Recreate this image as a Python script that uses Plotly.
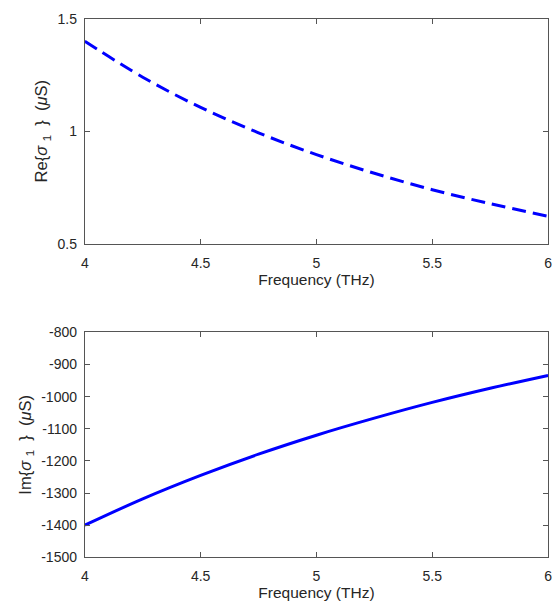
import plotly.graph_objects as go

freq = [4.0, 4.25, 4.5, 4.75, 5.0, 5.25, 5.5, 5.75, 6.0]
re_sigma = [1.400, 1.240, 1.106, 0.993, 0.896, 0.813, 0.740, 0.678, 0.622]
im_sigma = [-1400, -1318, -1245, -1179, -1120, -1067, -1018, -974, -934]

x_ticks = [4, 4.5, 5, 5.5, 6]
re_ticks = [0.5, 1, 1.5]
im_ticks = [-1500, -1400, -1300, -1200, -1100, -1000, -900, -800]

W, H = 556, 616
font = "Liberation Sans, Arial, sans-serif"
txtcol = "#262626"
axcol = "#555555"

fig = go.Figure()
fig.add_trace(go.Scatter(x=freq, y=re_sigma, mode="lines",
                         line=dict(color="#0000FF", width=3, dash="14px,7px", shape="spline"),
                         xaxis="x", yaxis="y", showlegend=False))
fig.add_trace(go.Scatter(x=freq, y=im_sigma, mode="lines",
                         line=dict(color="#0000FF", width=3, shape="spline"),
                         xaxis="x2", yaxis="y2", showlegend=False))

xd = [82 / W, 552 / W]
common = dict(showline=True, linecolor=axcol, linewidth=1, mirror="ticks", ticks="inside", ticklen=5,
              tickcolor=axcol, showgrid=False, zeroline=False, ticklabeloverflow="allow",
              tickfont=dict(family=font, size=14, color=txtcol))
tfont = dict(family=font, size=15.5, color=txtcol)
yfont = dict(family=font, size=16.5, color=txtcol)
xcommon = dict(range=[4, 6], tickvals=x_ticks, ticktext=[str(v) for v in x_ticks], ticklabelstandoff=6, **common)
ycommon = dict(ticklabelstandoff=4, **common)

re_title = "Re{<i>σ</i>&nbsp;<sub>1</sub>&nbsp;&nbsp;}&nbsp;&nbsp;(<i>μ</i>S)"
im_title = "Im{<i>σ</i>&nbsp;<sub>1</sub>&nbsp;&nbsp;}&nbsp;&nbsp;(<i>μ</i>S)"

fig.update_layout(
    width=W, height=H, margin=dict(l=0, r=0, t=0, b=0),
    paper_bgcolor="white", plot_bgcolor="white",
    xaxis=dict(domain=xd, anchor="y",
               title=dict(text="Frequency (THz)", font=tfont, standoff=2), **xcommon),
    yaxis=dict(domain=[1 - 242 / H, 1 - 11 / H], range=[0.5, 1.5], tickvals=re_ticks,
               ticktext=["0.5", "1", "1.5"], anchor="x",
               title=dict(text=re_title, font=yfont, standoff=5), **ycommon),
    xaxis2=dict(domain=xd, anchor="y2",
                title=dict(text="Frequency (THz)", font=tfont, standoff=2), **xcommon),
    yaxis2=dict(domain=[1 - 564 / H, 1 - 333 / H], range=[-1500, -800], tickvals=im_ticks,
                ticktext=[str(v) for v in im_ticks], anchor="x2",
                title=dict(text=im_title, font=yfont, standoff=5), **ycommon),
)

fig.write_html("out.html", config={"displayModeBar": False})

# remove default page margin so the figure sits exactly in the 556x616 window
with open("out.html", "r", encoding="utf-8") as f:
    html = f.read()
html = html.replace("<head>", "<head><style>html,body{margin:0;padding:0;overflow:hidden;}</style>", 1)
with open("out.html", "w", encoding="utf-8") as f:
    f.write(html)
